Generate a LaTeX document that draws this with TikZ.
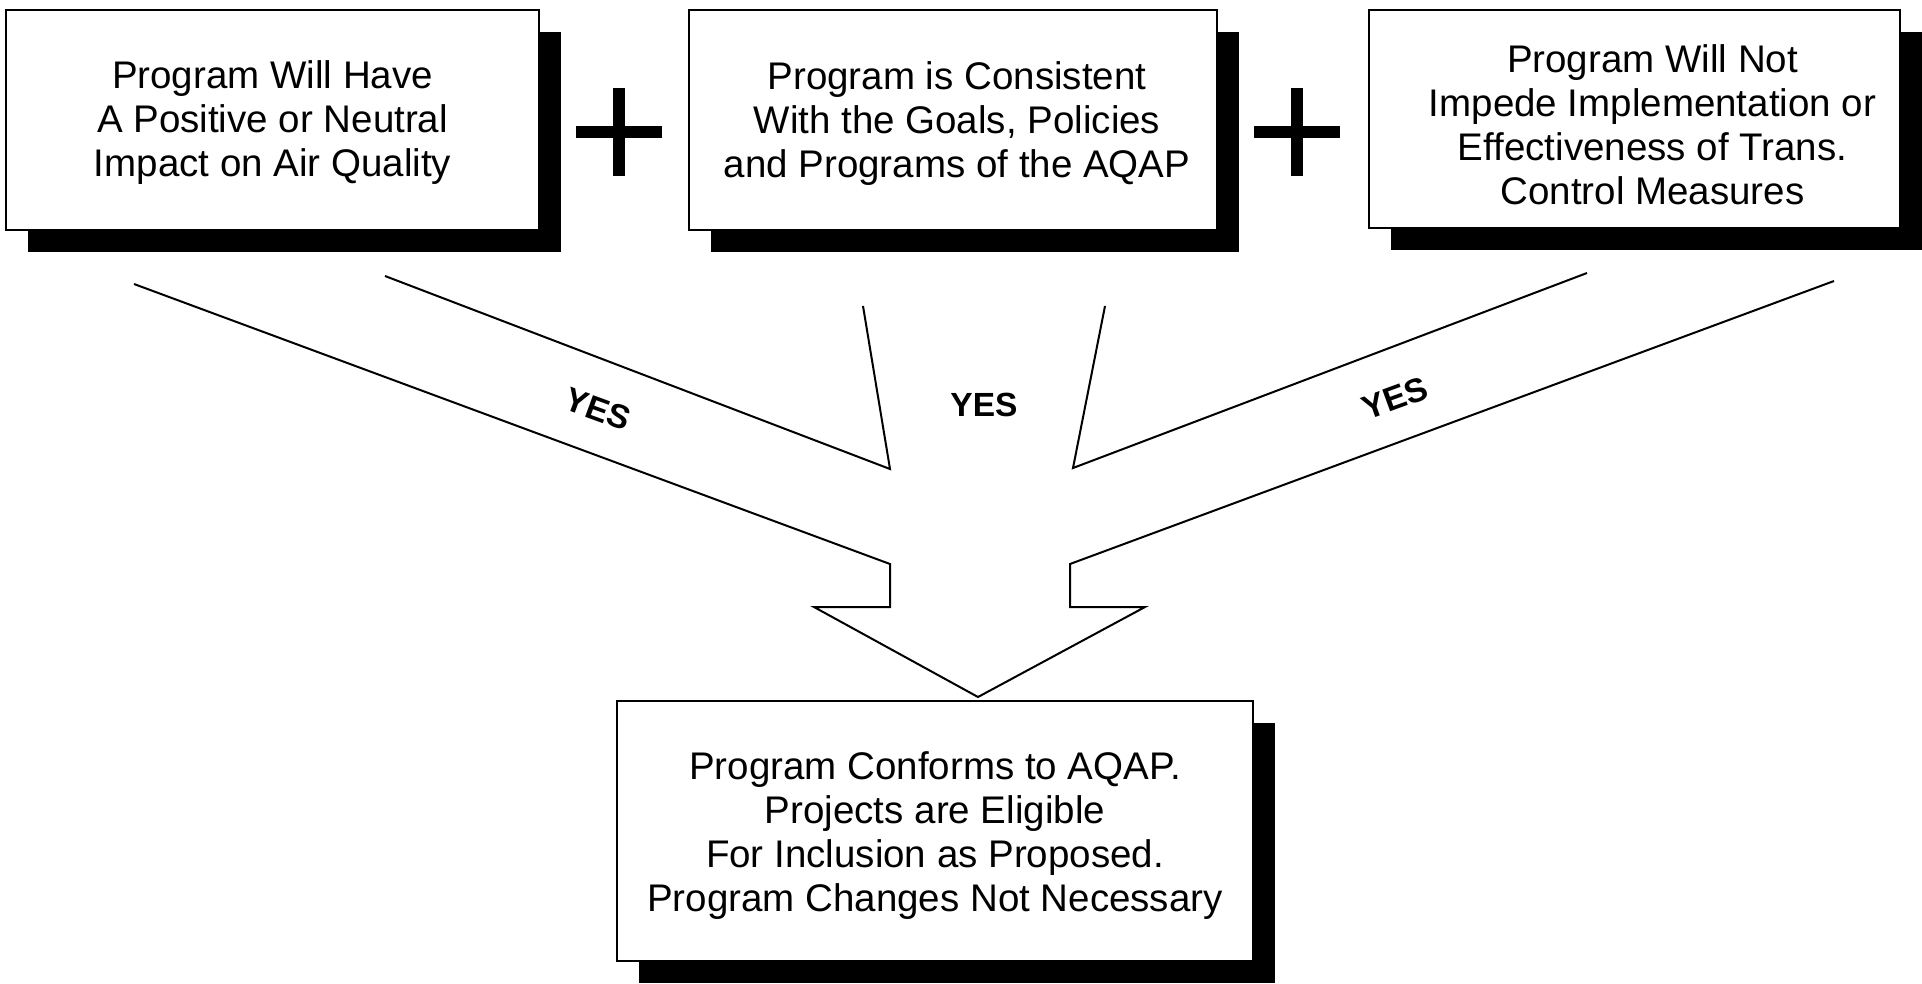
\documentclass[tikz,border=0pt]{standalone}
\usepackage{fontspec}
\setmainfont{Liberation Sans}
\usetikzlibrary{shadows}
\begin{document}
\begin{tikzpicture}[x=1pt,y=-1pt,
  box/.style={draw=black, line width=1.5pt, fill=white, inner sep=0pt,
    drop shadow={shadow xshift=22pt, shadow yshift=-22pt, opacity=1, fill=black}},
  boxtext/.style={align=center, font=\fontsize{38.5}{44}\selectfont, inner sep=0pt},
  yeslabel/.style={font=\fontsize{33.5}{33.5}\selectfont\bfseries, inner sep=0pt},
  arrowline/.style={line width=2pt, line join=miter},
  plusbar/.style={line width=12pt}
]
\useasboundingbox[fill=white] (0,0) rectangle (1922,983);

% boxes
\node[box, minimum width=533pt, minimum height=220pt] (b1) at (272.5,120) {};
\node[box, minimum width=528pt, minimum height=220pt] (b2) at (953,120) {};
\node[box, minimum width=531pt, minimum height=218pt] (b3) at (1634.5,119) {};
\node[box, minimum width=636pt, minimum height=260pt] (b4) at (935,831) {};

% box texts
\node[boxtext] (t1) at ([yshift=-3pt]b1.center)
  {Program Will Have\\A Positive or Neutral\\Impact on Air Quality};
\node[boxtext] (t2) at ([xshift=4pt,yshift=-4pt]b2.center)
  {Program is Consistent\\With the Goals, Policies\\and Programs of the AQAP};
\node[boxtext] (t3) at ([xshift=18pt,yshift=-6pt]b3.center)
  {Program Will Not\\Impede Implementation or\\Effectiveness of Trans.\\Control Measures};
\node[boxtext] (t4) at ([yshift=-5pt]b4.center)
  {Program Conforms to AQAP.\\Projects are Eligible\\For Inclusion as Proposed.\\Program Changes Not Necessary};

% plus signs
\coordinate (p1) at (619,132);
\coordinate (p2) at (1297,132);
\foreach \p in {p1,p2}{
  \draw[plusbar] ([xshift=-43pt]\p) -- ([xshift=43pt]\p);
  \draw[plusbar] ([yshift=-44pt]\p) -- ([yshift=44pt]\p);
}

% merging arrow
\coordinate (o1) at (134,284);
\coordinate (o2) at (890,564);
\coordinate (o3) at (890,607);
\coordinate (o4) at (814,607);
\coordinate (tip) at (978,697);
\coordinate (o6) at (1145,607);
\coordinate (o7) at (1070,607);
\coordinate (o8) at (1070,564);
\coordinate (o9) at (1834,281);
\coordinate (i1) at (385,276);
\coordinate (i2) at (890,469);
\coordinate (i3) at (863,306);
\coordinate (i4) at (1105,306);
\coordinate (i5) at (1073,468);
\coordinate (i6) at (1587,273);
\draw[arrowline] (o1) -- (o2) -- (o3) -- (o4) -- (tip) -- (o6) -- (o7) -- (o8) -- (o9);
\draw[arrowline] (i1) -- (i2) -- (i3);
\draw[arrowline] (i4) -- (i5) -- (i6);

% labels
\node[yeslabel, rotate=-20] (yes1) at (598,409) {YES};
\node[yeslabel] (yes2) at (984,405) {YES};
\node[yeslabel, rotate=20] (yes3) at (1395,398) {YES};
\end{tikzpicture}
\end{document}
